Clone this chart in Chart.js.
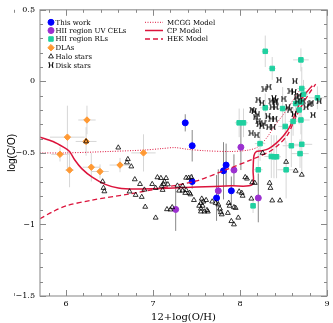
<!DOCTYPE html>
<html><head><meta charset="utf-8">
<script src="https://cdn.jsdelivr.net/npm/chart.js@4/dist/chart.umd.min.js"></script>
<style>html,body{margin:0;padding:0;background:#fff}canvas{display:block}</style>
</head><body>
<canvas id="c" width="333" height="323"></canvas>
<script>
// ---------- data ----------
const xTicks = [6, 7, 8, 9];
const yTicks = [-1.5, -1, -0.5, 0, 0.5];

const dlaX = [6.24, 6.015, 6.23, 5.93, 6.04, 6.29, 6.39, 6.62, 6.89];
const dlaY = [-0.27, -0.39, -0.42, -0.51, -0.62, -0.60, -0.63, -0.585, -0.50];
const dlaXErr = [0.1, 0.2, 0.12, 0.1, 0.05, 0.1, 0.1, 0.12, 0.14];
const dlaYErr = [0.1, 0.22, 0.1, 0.05, 0.12, 0.1, 0.05, 0.05, 0.13];

const twX = [7.37, 7.45, 7.84, 7.81, 7.45, 7.90, 7.73];
const twY = [-0.29, -0.45, -0.585, -0.625, -0.70, -0.765, -0.815];
const twYErr = [0.06, 0.11, 0.15, 0.2, 0.05, 0.1, 0.16];

const uvX = [8.01, 7.93, 7.75, 8.21, 7.26];
const uvY = [-0.46, -0.62, -0.765, -0.815, -0.895];
const uvYErr = [0.16, 0.11, 0.15, 0.17, 0.15];

const rlX = [8.29, 8.37, 8.70, 8.71, 8.73, 8.89, 8.70, 8.29, 8.49, 8.64, 8.68, 8.52, 8.61, 8.70, 7.99, 8.04, 8.23, 8.71, 8.59, 8.69, 8.36, 8.39, 8.42, 8.53, 8.21, 8.15];
const rlY = [0.21, 0.09, 0.15, -0.05, -0.09, -0.115, -0.145, -0.185, -0.19, -0.155, -0.20, -0.315, -0.28, -0.27, -0.29, -0.29, -0.435, -0.44, -0.45, -0.505, -0.525, -0.527, -0.527, -0.618, -0.618, -0.87];
const rlXErr = [0.04, 0.04, 0.09, 0.05, 0.05, 0.1, 0.05, 0.06, 0.08, 0.05, 0.06, 0.08, 0.05, 0.1, 0.05, 0.05, 0.06, 0.12, 0.1, 0.1, 0.08, 0.05, 0.05, 0.1, 0.05, 0.03];
const rlYErr = [0.11, 0.08, 0.08, 0.15, 0.1, 0.08, 0.1, 0.1, 0.15, 0.1, 0.1, 0.12, 0.1, 0.1, 0.1, 0.1, 0.12, 0.2, 0.15, 0.1, 0.15, 0.15, 0.15, 0.2, 0.15, 0.05];

const haloX = [6.23, 6.60, 6.71, 6.70, 6.75, 6.42, 6.43, 6.44, 6.79, 6.85, 6.73, 6.80, 6.87, 6.91, 7.03, 6.99, 7.05, 7.15, 7.12, 7.11, 7.16,
  6.90, 7.03, 7.28, 7.30, 7.34, 7.38, 7.41, 7.37, 7.42, 7.47, 7.55, 7.57, 7.55, 7.20, 7.22, 7.13, 7.17, 7.10, 7.44, 7.34, 7.38, 7.43,
  7.56, 7.58, 7.61, 7.68, 7.72, 7.75, 7.77, 7.78, 7.53, 7.62, 7.87, 7.88, 7.98, 7.93, 7.95, 8.06, 8.08, 7.99, 8.02, 8.13, 8.14, 8.26,
  8.34, 8.35, 8.37, 8.46, 8.53, 8.64, 8.71, 7.90, 7.93, 7.79, 7.86, 7.55, 7.59, 7.63, 8.17, 8.03, 7.09];
const haloY = [-0.42, -0.463, -0.544, -0.567, -0.595, -0.70, -0.745, -0.769, -0.685, -0.718, -0.77, -0.794, -0.808, -0.877, -0.953, -0.718, -0.671, -0.676, -0.718, -0.759, -0.894,
  -0.757, -0.745, -0.729, -0.764, -0.764, -0.674, -0.674, -0.78, -0.78, -0.83, -0.85, -0.87, -0.89, -0.896, -0.88, -0.70, -0.72, -0.73, -0.67, -0.73, -0.76, -0.79,
  -0.82, -0.84, -0.83, -0.84, -0.85, -0.86, -0.89, -0.915, -0.87, -0.90, -0.85, -0.87, -0.953, -0.88, -0.885, -0.67, -0.68, -0.77, -0.78, -0.82, -0.706, -0.50,
  -0.71, -0.745, -0.833, -0.833, -0.563, -0.625, -0.653, -0.977, -1.0, -0.93, -0.92, -0.91, -0.91, -0.91, -0.71, -0.80, -0.676];

const diskX = [8.45, 8.63, 8.28, 8.33, 8.21, 8.39, 8.41, 8.50, 8.58, 8.62, 8.65, 8.68, 8.66, 8.72, 8.14, 8.37, 8.41, 8.76, 8.25, 8.40,
  8.36, 8.55, 8.57, 8.80, 8.82, 8.32, 8.36, 8.40, 8.22, 8.25, 8.33, 8.38, 8.20, 8.27, 8.13, 8.19, 8.62, 8.84, 8.91, 8.16, 8.18, 8.21];
const diskY = [0.01, 0.0, -0.056, -0.037, -0.127, -0.116, -0.139, -0.12, -0.069, -0.074, -0.11, -0.10, -0.14, -0.135, -0.197, -0.18, -0.18, -0.18, -0.15, -0.145,
  -0.14, -0.18, -0.20, -0.16, -0.15, -0.245, -0.26, -0.26, -0.30, -0.31, -0.32, -0.32, -0.23, -0.294, -0.363, -0.375, -0.23, -0.235, -0.14, -0.21, -0.25, -0.28];

const mcggX = [5.7, 6.0, 6.5, 6.9, 7.1, 7.25, 7.4, 7.6, 7.9, 8.1, 8.2, 8.3, 8.4, 8.5, 8.6, 8.7];
const mcggY = [-0.50, -0.50, -0.49, -0.48, -0.47, -0.463, -0.475, -0.485, -0.49, -0.48, -0.46, -0.40, -0.31, -0.23, -0.14, -0.05];

const cpX = [5.7, 5.85, 5.97, 6.04, 6.1, 6.18, 6.3, 6.45, 6.6, 6.8, 7.1, 7.5, 7.9, 8.14, 8.15, 8.16, 8.19, 8.25, 8.33, 8.42, 8.5, 8.57, 8.62, 8.66, 8.70, 8.76, 8.83];
const cpY = [-0.39, -0.42, -0.46, -0.49, -0.55, -0.61, -0.67, -0.72, -0.745, -0.752, -0.748, -0.738, -0.73, -0.722, -0.62, -0.52, -0.49, -0.485, -0.47, -0.43, -0.38, -0.32, -0.25, -0.19, -0.13, -0.08, -0.03];

const hekX = [5.7, 5.85, 6.0, 6.3, 6.7, 7.1, 7.5, 7.85, 8.14, 8.34, 8.45, 8.55, 8.62, 8.7, 8.8, 8.87];
const hekY = [-0.96, -0.91, -0.87, -0.83, -0.79, -0.745, -0.695, -0.615, -0.545, -0.49, -0.44, -0.37, -0.28, -0.18, -0.08, -0.02];

// ---------- helpers ----------
const pts = (xs, ys, ex, ey) => xs.map((x, i) => ({x, y: ys[i], ex: ex ? ex[i] : 0, ey: ey ? ey[i] : 0}));
const RED = 'rgb(220,20,60)';
const SERIF = "'DejaVu Serif', serif";

const diskImg = document.createElement('canvas');
diskImg.width = 6; diskImg.height = 6;
(function () {
  const g = diskImg.getContext('2d');
  g.strokeStyle = '#000'; g.lineWidth = 0.9;
  g.beginPath();
  g.moveTo(1.5, 0.8); g.lineTo(1.5, 5.2);
  g.moveTo(4.5, 0.8); g.lineTo(4.5, 5.2);
  g.moveTo(1.5, 3); g.lineTo(4.5, 3);
  g.moveTo(0.3, 0.8); g.lineTo(1.9, 0.8); g.moveTo(4.1, 0.8); g.lineTo(5.7, 0.8);
  g.moveTo(0.3, 5.2); g.lineTo(1.9, 5.2); g.moveTo(4.1, 5.2); g.lineTo(5.7, 5.2);
  g.stroke();
})();

const errPlugin = {
  id: 'errbars',
  beforeDatasetsDraw(chart) {
    const ctx = chart.ctx, xs = chart.scales.x, ys = chart.scales.y;
    ctx.save();
    chart.data.datasets.forEach(ds => {
      if (!ds.errColor) return;
      ctx.strokeStyle = ds.errColor; ctx.lineWidth = 1;
      ds.data.forEach(p => {
        const px = xs.getPixelForValue(p.x), py = ys.getPixelForValue(p.y);
        ctx.beginPath();
        if (p.ex) { ctx.moveTo(xs.getPixelForValue(p.x - p.ex), py); ctx.lineTo(xs.getPixelForValue(p.x + p.ex), py); }
        if (p.ey) { ctx.moveTo(px, ys.getPixelForValue(p.y - p.ey)); ctx.lineTo(px, ys.getPixelForValue(p.y + p.ey)); }
        ctx.stroke();
      });
    });
    ctx.restore();
  }
};

const framePlugin = {
  id: 'frame',
  afterDraw(chart) {
    const ctx = chart.ctx, a = chart.chartArea, xs = chart.scales.x, ys = chart.scales.y;
    ctx.save();
    ctx.strokeStyle = '#999'; ctx.lineWidth = 1.2;
    ctx.strokeRect(a.left, a.top, a.right - a.left, a.bottom - a.top);
    ctx.strokeStyle = '#888'; ctx.lineWidth = 1;
    ctx.beginPath();
    for (let i = 29; i <= 90; i++) {
      const v = i / 10; if (i % 2) continue;
      const px = Math.round(xs.getPixelForValue(v)) + 0.5;
      const L = (i % 10 === 0) ? 6 : 3;
      ctx.moveTo(px, a.bottom); ctx.lineTo(px, a.bottom - L);
      ctx.moveTo(px, a.top); ctx.lineTo(px, a.top + L);
    }
    for (let i = -15; i <= 5; i++) {
      const py = Math.round(ys.getPixelForValue(i / 10)) + 0.5;
      const L = (i % 5 === 0) ? 6 : 3;
      ctx.moveTo(a.left, py); ctx.lineTo(a.left + L, py);
      ctx.moveTo(a.right, py); ctx.lineTo(a.right - L, py);
    }
    ctx.stroke();

    // legends
    ctx.font = "7px " + SERIF;
    ctx.textBaseline = 'middle'; ctx.textAlign = 'left'; ctx.fillStyle = '#000';
    const H = Chart.helpers;
    const left = [
      ['This work', {pointStyle: 'circle', radius: 3}, '#0000ff'],
      ['HII region UV CELs', {pointStyle: 'circle', radius: 3}, '#9b30d0'],
      ['HII region RLs', {pointStyle: 'rect', radius: 3.2}, '#20d0a0'],
      ['DLAs', {pointStyle: 'rectRot', radius: 3.2}, '#ff9933'],
      ['Halo stars', {pointStyle: 'triangle', radius: 2.8}, null],
      ['Disk stars', {pointStyle: diskImg, radius: 3}, null]
    ];
    const ly = [22.3, 30.5, 39, 47.7, 56.5, 65.3];
    left.forEach((it, i) => {
      ctx.save();
      if (it[2]) { ctx.fillStyle = it[2]; ctx.strokeStyle = it[2]; it[1].borderWidth = 1; }
      else { ctx.fillStyle = 'rgba(0,0,0,0)'; ctx.strokeStyle = '#000'; ctx.lineWidth = 0.8; it[1].borderWidth = 0.8; }
      it[1].rotation = 0;
      H.drawPoint(ctx, it[1], 51, ly[i]);
      ctx.restore();
      ctx.fillStyle = '#000';
      ctx.fillText(it[0], 55.5, ly[i] + 0.5);
    });
    const right = [['MCGG Model', [1, 1.5], 1], ['CP Model', [], 1.5], ['HEK Model', [5, 3], 1.3]];
    right.forEach((it, i) => {
      ctx.save();
      ctx.strokeStyle = RED; ctx.lineWidth = it[2]; ctx.setLineDash(it[1]);
      ctx.beginPath(); ctx.moveTo(145, ly[i]); ctx.lineTo(163, ly[i]); ctx.stroke();
      ctx.restore();
      ctx.fillText(it[0], 167, ly[i] + 0.5);
    });
    ctx.restore();
  }
};

const fmt = v => (v < 0 ? '\u2212' : '') + String(Math.abs(v));

new Chart(document.getElementById('c'), {
  type: 'scatter',
  data: {
    datasets: [
      {label: 'Halo stars', data: pts(haloX, haloY), pointStyle: 'triangle', radius: 2.8, backgroundColor: 'rgba(0,0,0,0)', borderColor: '#000', borderWidth: 0.8},
      {label: 'Disk stars', data: pts(diskX, diskY), pointStyle: diskImg, radius: 3},
      {label: 'HII region RLs', data: pts(rlX, rlY, rlXErr, rlYErr), errColor: '#d6d6d6', pointStyle: 'rect', radius: 3.2, backgroundColor: '#20d0a0', borderColor: '#20d0a0', borderWidth: 1},
      {label: 'DLAs', data: pts(dlaX, dlaY, dlaXErr, dlaYErr), errColor: '#d6d6d6', pointStyle: 'rectRot', radius: 3.2, backgroundColor: '#ff9933', borderColor: '#ff9933', borderWidth: 1},
      {label: 'MCGG Model', data: pts(mcggX, mcggY), showLine: true, radius: 0, borderColor: RED, borderWidth: 1, borderDash: [1, 1.5], tension: 0.3},
      {label: 'CP Model', data: pts(cpX, cpY), showLine: true, radius: 0, borderColor: RED, borderWidth: 1.5, tension: 0.3},
      {label: 'HEK Model', data: pts(hekX, hekY), showLine: true, radius: 0, borderColor: RED, borderWidth: 1.3, borderDash: [5, 3], tension: 0.3},
      {label: 'HII region UV CELs', data: pts(uvX, uvY, null, uvYErr), errColor: '#888', pointStyle: 'circle', radius: 3, backgroundColor: '#9b30d0', borderColor: '#9b30d0', borderWidth: 1},
      {label: 'This work', data: pts(twX, twY, null, twYErr), errColor: '#888', pointStyle: 'circle', radius: 3, backgroundColor: '#0000ff', borderColor: '#0000ff', borderWidth: 1}
    ]
  },
  options: {
    responsive: false, animation: false, devicePixelRatio: 1,
    layout: {padding: {top: 8, right: 6, left: 0, bottom: 0}},
    plugins: {legend: {display: false}, tooltip: {enabled: false}},
    scales: {
      x: {
        type: 'linear', min: 5.7, max: 9,
        afterBuildTicks: s => { s.ticks = xTicks.map(v => ({value: v})); },
        afterFit: s => { s.height = 27; },
        grid: {display: false, drawTicks: false}, border: {display: false},
        ticks: {padding: 3, color: '#000', font: {family: SERIF, size: 8}, callback: v => fmt(v)},
        title: {display: true, text: '12+log(O/H)', color: '#000', font: {family: SERIF, size: 10}, padding: {top: 0, bottom: 0}}
      },
      y: {
        type: 'linear', min: -1.5, max: 0.5,
        afterBuildTicks: s => { s.ticks = yTicks.map(v => ({value: v})); },
        afterFit: s => { s.width = 40; },
        grid: {display: false, drawTicks: false}, border: {display: false},
        ticks: {padding: 5, color: '#000', font: {family: SERIF, size: 8}, callback: v => fmt(v)},
        title: {display: true, text: 'log(C/O)', color: '#000', font: {family: "'Liberation Sans', Arial, sans-serif", size: 10}, padding: {top: 6, bottom: 0}}
      }
    }
  },
  plugins: [errPlugin, framePlugin]
});
</script>
</body></html>
